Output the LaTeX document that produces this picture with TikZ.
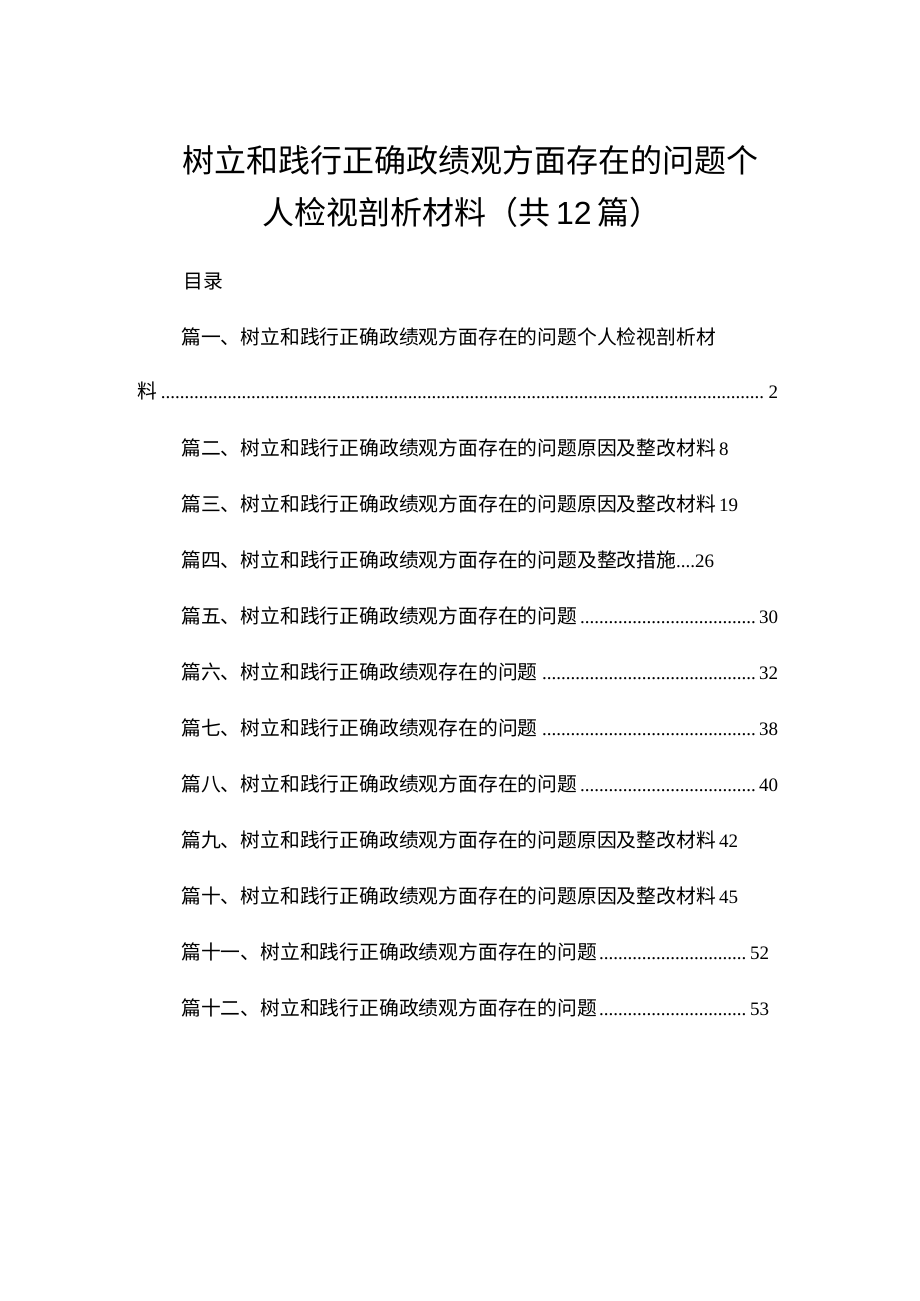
\documentclass[tikz,border=0pt]{standalone}
\usepackage{fontspec}
\setmainfont{Liberation Serif}
\newfontfamily\cjk{Noto Sans CJK SC}
\tikzset{
  pagetitle/.style={font=\cjk\fontsize{32}{36}\selectfont, inner sep=0pt},
  tocline/.style={anchor=west, inner sep=0pt, font=\cjk\fontsize{19.8}{22}\selectfont},
  tocfill/.style={tocline, text width=#1pt, align=left},
}
\newcommand{\tocdots}{\leaders\hbox{\rmfamily\fontsize{19}{20}\selectfont.}\hfill}
\newcommand{\pg}[1]{{\rmfamily\fontsize{19}{22}\selectfont #1}}
\begin{document}
\begin{tikzpicture}[x=1pt,y=-1pt]
  \useasboundingbox[fill=white] (0,0) rectangle (920,1301);

  \node[pagetitle] (title1) at (470,160) {树立和践行正确政绩观方面存在的问题个};
  \node[pagetitle] (title2) at (462,212) {人检视剖析材料（共\,{\fontspec{Liberation Sans}12}\,篇）};

  \node[tocline] (toc) at (183,282) {目录};

  \node[tocline] (p1) at (181,337) {篇一、树立和践行正确政绩观方面存在的问题个人检视剖析材};
  \node[tocfill=641] (p1b) at (137,391) {料\tocdots\pg{2}};
  \node[tocline] (p2) at (181,448) {篇二、树立和践行正确政绩观方面存在的问题原因及整改材料\,\pg{8}};
  \node[tocline] (p3) at (181,504) {篇三、树立和践行正确政绩观方面存在的问题原因及整改材料\,\pg{19}};
  \node[tocline] (p4) at (181,560) {篇四、树立和践行正确政绩观方面存在的问题及整改措施\pg{....26}};
  \node[tocfill=597] (p5) at (181,616) {篇五、树立和践行正确政绩观方面存在的问题\tocdots\pg{30}};
  \node[tocfill=597] (p6) at (181,672) {篇六、树立和践行正确政绩观存在的问题\tocdots\pg{32}};
  \node[tocfill=597] (p7) at (181,728) {篇七、树立和践行正确政绩观存在的问题\tocdots\pg{38}};
  \node[tocfill=597] (p8) at (181,784) {篇八、树立和践行正确政绩观方面存在的问题\tocdots\pg{40}};
  \node[tocline] (p9) at (181,840) {篇九、树立和践行正确政绩观方面存在的问题原因及整改材料\,\pg{42}};
  \node[tocline] (p10) at (181,896) {篇十、树立和践行正确政绩观方面存在的问题原因及整改材料\,\pg{45}};
  \node[tocfill=588] (p11) at (181,952) {篇十一、树立和践行正确政绩观方面存在的问题\tocdots\pg{52}};
  \node[tocfill=588] (p12) at (181,1008) {篇十二、树立和践行正确政绩观方面存在的问题\tocdots\pg{53}};
\end{tikzpicture}
\end{document}
